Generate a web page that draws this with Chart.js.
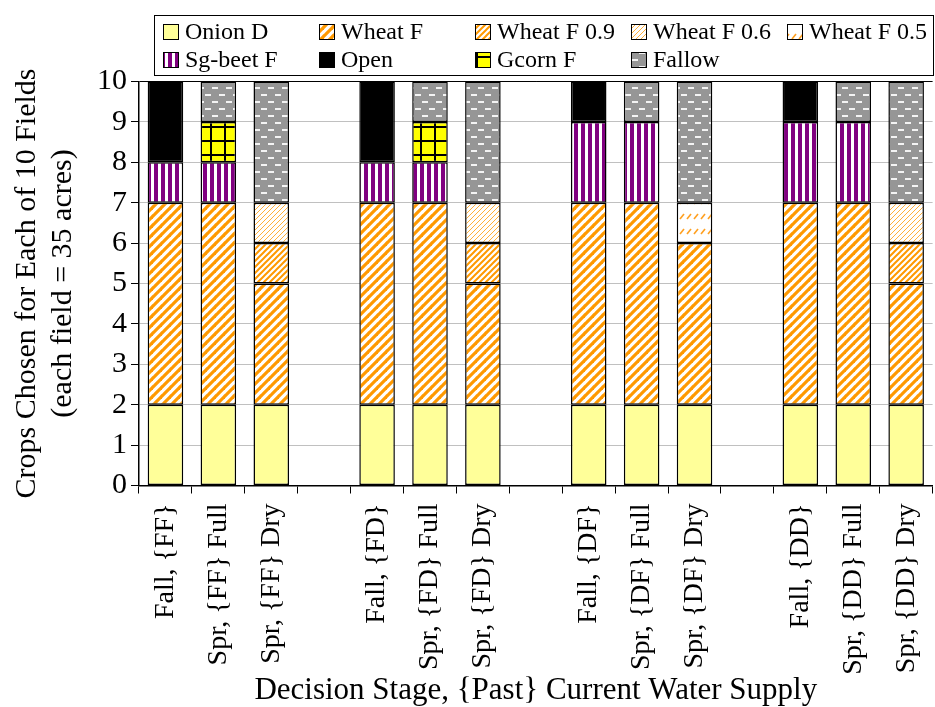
<!DOCTYPE html>
<html>
<head>
<meta charset="utf-8">
<script src="https://cdn.jsdelivr.net/npm/chart.js@4"></script>
<style>
  html, body { margin: 0; padding: 0; background: #fff; overflow: hidden; }
  #quadro { width: 935px; height: 707px; overflow: hidden; }
</style>
</head>
<body>
<div id="quadro"><canvas id="grafico" width="950" height="707"></canvas></div>
<script>
// estagios de decisao (as posicoes vazias separam os grupos)
const estagios = [
  'Fall, {FF}', 'Spr, {FF} Full', 'Spr, {FF} Dry', '',
  'Fall, {FD}', 'Spr, {FD} Full', 'Spr, {FD} Dry', '',
  'Fall, {DF}', 'Spr, {DF} Full', 'Spr, {DF} Dry', '',
  'Fall, {DD}', 'Spr, {DD} Full', 'Spr, {DD} Dry'
];

// campos por cultura em cada estagio
const onionD   = [2, 2, 2, null, 2, 2, 2, null, 2, 2, 2, null, 2, 2, 2];
const wheatF   = [5, 5, 3, null, 5, 5, 3, null, 5, 5, 4, null, 5, 5, 3];
const wheatF09 = [null, null, 1, null, null, null, 1, null, null, null, null, null, null, null, 1];
const wheatF06 = [null, null, 1, null, null, null, 1, null, null, null, null, null, null, null, 1];
const wheatF05 = [null, null, null, null, null, null, null, null, null, null, 1, null, null, null, null];
const sgbeetF  = [1, 1, null, null, 1, 1, null, null, 2, 2, null, null, 2, 2, null];
const aberto   = [2, null, null, null, 2, null, null, null, 1, null, null, null, 1, null, null];
const gcornF   = [null, 1, null, null, null, 1, null, null, null, null, null, null, null, null, null];
const pousio   = [null, 1, 3, null, null, 1, 3, null, null, 1, 3, null, null, 1, 3];

const FONTE = 'Liberation Serif';

function criarTile(w, h, desenho) {
    const c = document.createElement('canvas');
    c.width = w;
    c.height = h;
    desenho(c.getContext('2d'), w, h);
    return document.getElementById('grafico').getContext('2d').createPattern(c, 'repeat');
}

// listras diagonais "/"
function listras(cor, periodo, largura) {
    return criarTile(periodo, periodo, (g, p) => {
        g.fillStyle = '#fff';
        g.fillRect(0, 0, p, p);
        g.strokeStyle = cor;
        g.lineWidth = largura;
        g.lineCap = 'square';
        for (let k = -1; k <= 1; k++) {
            g.beginPath();
            g.moveTo(k * p, p);
            g.lineTo(k * p + p, 0);
            g.stroke();
        }
    });
}

const padroes = {
    onion: '#FFFF99',
    wheat: listras('#FF9900', 9, 3.2),
    wheat09: listras('#FF9900', 6, 2),
    wheat06: listras('#FFB03A', 5, 1),
    wheat05: criarTile(7, 15, (g, w, h) => {
        g.fillStyle = '#fff';
        g.fillRect(0, 0, w, h);
        g.strokeStyle = '#FFA020';
        g.lineWidth = 1.6;
        g.beginPath();
        g.moveTo(1, 9);
        g.lineTo(5, 4);
        g.stroke();
    }),
    sgbeet: criarTile(7, 7, (g, w, h) => {
        g.fillStyle = '#fff';
        g.fillRect(0, 0, w, h);
        g.fillStyle = '#800080';
        g.fillRect(0, 0, 4, h);
    }),
    aberto: '#000000',
    gcorn: criarTile(14, 14, (g, w, h) => {
        g.fillStyle = '#FFFF00';
        g.fillRect(0, 0, w, h);
        g.fillStyle = '#000';
        g.fillRect(0, 0, 2, h);
        g.fillRect(0, 0, w, 2);
    }),
    pousio: criarTile(14, 14, (g, w, h) => {
        g.fillStyle = '#969696';
        g.fillRect(0, 0, w, h);
        g.fillStyle = '#F4F4F4';
        g.fillRect(2, 3, 6, 2);
        g.fillRect(9, 10, 5, 2);
        g.fillRect(0, 10, 1, 2);
    })
};

function serie(nome, dados, fundo) {
    return {
        label: nome,
        data: dados,
        backgroundColor: fundo,
        borderColor: '#000',
        borderWidth: 1.5,
        borderSkipped: false,
        barPercentage: 0.672,
        categoryPercentage: 1
    };
}

// legenda em grade, 5 colunas por 2 linhas
const legendaCaixa = {
    id: 'legendaCaixa',
    afterDraw(chart) {
        const ctx = chart.ctx;
        const fonte = Chart.helpers.toFont({ family: FONTE, size: 24 });
        ctx.save();
        ctx.fillStyle = '#fff';
        ctx.fillRect(154, 15, 779, 60);
        ctx.strokeStyle = '#000';
        ctx.lineWidth = 1;
        ctx.strokeRect(154.5, 15.5, 779, 60);
        chart.data.datasets.forEach((ds, i) => {
            const col = i < 5 ? i : i - 5;
            const y = i < 5 ? 32 : 60;
            const x = 163 + col * 156;
            ctx.fillStyle = ds.backgroundColor;
            ctx.fillRect(x, y - 8, 16, 16);
            ctx.strokeStyle = '#000';
            ctx.lineWidth = 1;
            ctx.strokeRect(x + 0.5, y - 7.5, 15, 15);
            Chart.helpers.renderText(ctx, ds.label, x + 22, y + 1, fonte, {
                color: '#000',
                textAlign: 'left',
                textBaseline: 'middle'
            });
        });
        ctx.restore();
    }
};

new Chart(document.getElementById('grafico'), {
    type: 'bar',
    data: {
        labels: estagios,
        datasets: [
            serie('Onion D', onionD, padroes.onion),
            serie('Wheat F', wheatF, padroes.wheat),
            serie('Wheat F 0.9', wheatF09, padroes.wheat09),
            serie('Wheat F 0.6', wheatF06, padroes.wheat06),
            serie('Wheat F 0.5', wheatF05, padroes.wheat05),
            serie('Sg-beet F', sgbeetF, padroes.sgbeet),
            serie('Open', aberto, padroes.aberto),
            serie('Gcorn F', gcornF, padroes.gcorn),
            serie('Fallow', pousio, padroes.pousio)
        ]
    },
    options: {
        responsive: false,
        animation: false,
        devicePixelRatio: 1,
        layout: { padding: { top: 81.5, right: 7.5, left: 0, bottom: 0 } },
        plugins: {
            legend: { display: false },
            tooltip: { enabled: false }
        },
        scales: {
            x: {
                stacked: true,
                ticks: {
                    color: '#000',
                    font: { family: FONTE, size: 28 },
                    maxRotation: 90,
                    minRotation: 90,
                    autoSkip: false,
                    padding: 10
                },
                grid: { offset: true, drawOnChartArea: false, tickLength: 8, color: '#000' },
                border: { color: '#000', width: 1.5 },
                title: {
                    display: true,
                    text: 'Decision Stage, {Past} Current Water Supply',
                    color: '#000',
                    font: { family: FONTE, size: 31, lineHeight: 1.2 },
                    padding: { top: 0, bottom: -2 }
                },
                afterFit(s) { s.height = 221.5; }
            },
            y: {
                stacked: true,
                min: 0,
                max: 10,
                ticks: {
                    stepSize: 1,
                    color: '#000',
                    font: { family: FONTE, size: 30 },
                    padding: 4
                },
                grid: {
                    color: c => c.tick.value === 10 ? '#000' : '#C0C0C0',
                    tickColor: '#000',
                    tickLength: 8
                },
                border: { color: '#000', width: 1.5 },
                title: {
                    display: true,
                    text: ['Crops Chosen for Each of 10 Fields', '(each field = 35 acres)'],
                    color: '#000',
                    font: { family: FONTE, size: 30, lineHeight: 1.2 },
                    padding: { top: 9, bottom: 0 }
                },
                afterFit(s) { s.width = 139; }
            }
        }
    },
    plugins: [legendaCaixa]
});
</script>
</body>
</html>
